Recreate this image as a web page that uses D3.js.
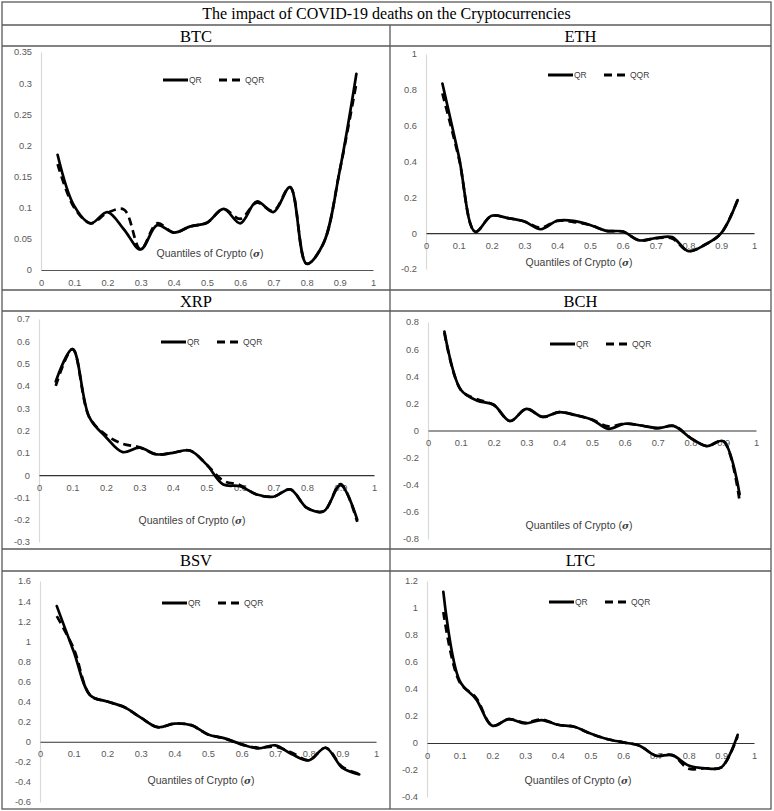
<!DOCTYPE html>
<html>
<head>
<meta charset="utf-8">
<script src="https://cdn.jsdelivr.net/npm/d3@7"></script>
<style>
  html, body { margin: 0; padding: 0; background: #fff; }
  svg { display: block; }
</style>
</head>
<body>
<svg id="chart" width="774" height="811"></svg>
<script>
// ---------------- DATA ----------------
const chartTitle = "The impact of COVID-19 deaths on the Cryptocurrencies";
const quantiles = [0.05,0.10,0.15,0.20,0.25,0.30,0.35,0.40,0.45,0.50,0.55,0.60,0.65,0.70,0.75,0.80,0.85,0.90,0.95];
const xTicks = [0,0.1,0.2,0.3,0.4,0.5,0.6,0.7,0.8,0.9,1];
const seriesNames = ["QR","QQR"];
const xAxisTitle = "Quantiles of Crypto (";
const sigma = "σ";

const btcQR  = [0.185,0.103,0.075,0.093,0.065,0.033,0.072,0.060,0.070,0.076,0.098,0.075,0.110,0.093,0.133,0.010,0.042,0.160,0.315];
const btcQQR = [0.170,0.100,0.075,0.092,0.097,0.033,0.075,0.060,0.070,0.076,0.098,0.082,0.108,0.095,0.133,0.010,0.042,0.160,0.300];
const btcTicks = [0,0.05,0.1,0.15,0.2,0.25,0.3,0.35];

const ethQR  = [0.835,0.430,0.008,0.097,0.084,0.065,0.022,0.069,0.069,0.046,0.013,0.009,-0.040,-0.028,-0.022,-0.100,-0.065,0.000,0.185];
const ethQQR = [0.780,0.420,0.008,0.097,0.084,0.065,0.030,0.069,0.062,0.046,0.013,0.009,-0.040,-0.028,-0.030,-0.100,-0.065,0.000,0.185];
const ethTicks = [-0.2,0,0.2,0.4,0.6,0.8,1];

const xrpQR  = [0.420,0.565,0.260,0.170,0.103,0.123,0.093,0.100,0.110,0.048,-0.042,-0.050,-0.087,-0.097,-0.064,-0.147,-0.162,-0.045,-0.200];
const xrpQQR = [0.400,0.565,0.260,0.180,0.140,0.125,0.093,0.100,0.110,0.048,-0.025,-0.045,-0.087,-0.097,-0.064,-0.147,-0.162,-0.040,-0.210];
const xrpTicks = [-0.3,-0.2,-0.1,0,0.1,0.2,0.3,0.4,0.5,0.6,0.7];

const bchQR  = [0.730,0.300,0.220,0.190,0.070,0.160,0.100,0.135,0.113,0.080,0.012,0.050,0.037,0.017,0.032,-0.054,-0.115,-0.078,-0.470];
const bchQQR = [0.720,0.300,0.230,0.190,0.070,0.160,0.100,0.135,0.113,0.080,0.030,0.050,0.037,0.017,0.035,-0.054,-0.115,-0.078,-0.520];
const bchTicks = [-0.8,-0.6,-0.4,-0.2,0,0.2,0.4,0.6,0.8];

const bsvQR  = [1.350,0.900,0.460,0.400,0.345,0.240,0.145,0.180,0.165,0.073,0.033,-0.026,-0.066,-0.036,-0.125,-0.185,-0.060,-0.260,-0.325];
const bsvQQR = [1.250,0.930,0.460,0.400,0.345,0.240,0.145,0.180,0.165,0.073,0.033,-0.026,-0.060,-0.050,-0.110,-0.185,-0.060,-0.250,-0.320];
const bsvTicks = [-0.6,-0.4,-0.2,0,0.2,0.4,0.6,0.8,1,1.2,1.4,1.6];

const ltcQR  = [1.120,0.460,0.325,0.128,0.177,0.145,0.170,0.135,0.120,0.070,0.030,0.005,-0.020,-0.094,-0.090,-0.167,-0.187,-0.180,0.060];
const ltcQQR = [0.970,0.450,0.335,0.128,0.177,0.150,0.175,0.135,0.120,0.070,0.030,0.005,-0.020,-0.094,-0.090,-0.190,-0.187,-0.180,0.050];
const ltcTicks = [-0.4,-0.2,0,0.2,0.4,0.6,0.8,1,1.2];

const panels = [
  {name:"BTC", qr:btcQR, qqr:btcQQR, ticks:btcTicks},
  {name:"ETH", qr:ethQR, qqr:ethQQR, ticks:ethTicks},
  {name:"XRP", qr:xrpQR, qqr:xrpQQR, ticks:xrpTicks},
  {name:"BCH", qr:bchQR, qqr:bchQQR, ticks:bchTicks},
  {name:"BSV", qr:bsvQR, qqr:bsvQQR, ticks:bsvTicks},
  {name:"LTC", qr:ltcQR, qqr:ltcQQR, ticks:ltcTicks}
];

// ---------------- LAYOUT ----------------
const tableX = [2, 390, 771];
const rowY = [2, 25, 46, 290, 311, 549, 571, 809];
const layout = [
  {x0:41,  x1:373, yT:52,  yB:270, legY:80,  tX:210, tY:257},
  {x0:426, x1:754, yT:54,  yB:269, legY:75,  tX:579, tY:266},
  {x0:39,  x1:374, yT:319, yB:542, legY:342, tX:192, tY:524},
  {x0:428, x1:756, yT:322, yB:539, legY:344, tX:579, tY:529},
  {x0:40,  x1:376, yT:581, yB:802, legY:603, tX:201, tY:784},
  {x0:427, x1:754, yT:581, yB:797, legY:602, tX:578, tY:784}
];

const svg = d3.select("#chart");
const borderColor = "#5a5a5a";

const tb = svg.append("g");
tb.append("rect").attr("x", tableX[0]).attr("y", rowY[0])
  .attr("width", tableX[2]-tableX[0]).attr("height", rowY[7]-rowY[0])
  .attr("fill","none").attr("stroke",borderColor).attr("stroke-width",1.3);
rowY.slice(1,7).forEach(y => {
  tb.append("line").attr("x1",tableX[0]).attr("x2",tableX[2]).attr("y1",y).attr("y2",y)
    .attr("stroke",borderColor).attr("stroke-width",1.3);
});
tb.append("line").attr("x1",tableX[1]).attr("x2",tableX[1]).attr("y1",rowY[1]).attr("y2",rowY[7])
  .attr("stroke",borderColor).attr("stroke-width",1.3);

svg.append("text").attr("x",(tableX[0]+tableX[2])/2).attr("y",19)
  .attr("text-anchor","middle").attr("font-family","'Liberation Serif', 'Times New Roman', serif")
  .attr("font-size",16).attr("fill","#000").text(chartTitle);

const headerRows = [[rowY[1],rowY[2]],[rowY[3],rowY[4]],[rowY[5],rowY[6]]];
panels.forEach((p,i) => {
  const col = i % 2, row = Math.floor(i/2);
  const cx = (tableX[col] + tableX[col+1]) / 2;
  const [ya, yb] = headerRows[row];
  svg.append("text").attr("x",cx).attr("y",(ya+yb)/2 + 6)
    .attr("text-anchor","middle").attr("font-family","'Liberation Serif', 'Times New Roman', serif")
    .attr("font-size",16.5).attr("fill","#000").text(p.name);
});

const tickFont = "'Liberation Sans', Arial, sans-serif";
const fmt = v => (+v.toFixed(2)).toString();

panels.forEach((p,i) => {
  const L = layout[i];
  const x = d3.scaleLinear().domain([0,1]).range([L.x0, L.x1]);
  const y = d3.scaleLinear().domain([d3.min(p.ticks), d3.max(p.ticks)]).range([L.yB, L.yT]);
  const g = svg.append("g");

  const yAxis = d3.axisLeft(y).tickValues(p.ticks).tickSize(0).tickPadding(9).tickFormat(fmt);
  const ya = g.append("g").attr("transform",`translate(${L.x0},0)`).call(yAxis);
  ya.select(".domain").attr("stroke","#d9d9d9").attr("stroke-width",1.2);
  ya.selectAll("text").attr("font-family",tickFont).attr("font-size",9.3).attr("fill","#595959");

  const xAxis = d3.axisBottom(x).tickValues(xTicks).tickSize(0).tickPadding(9).tickFormat(fmt);
  const xa = g.append("g").attr("transform",`translate(0,${y(0)})`).call(xAxis);
  xa.select(".domain").attr("stroke", i === 0 ? "#555" : "#333").attr("stroke-width",1.1);
  xa.selectAll("text").attr("font-family",tickFont).attr("font-size",9.3).attr("fill","#595959");

  const t = g.append("text").attr("x",L.tX).attr("y",L.tY).attr("text-anchor","middle")
    .attr("font-family",tickFont).attr("font-size",10.5).attr("fill","#404040");
  t.append("tspan").text(xAxisTitle);
  t.append("tspan").attr("font-weight","bold").attr("font-style","italic").attr("font-family","'DejaVu Serif', serif").attr("font-size",9.5).text(sigma);
  t.append("tspan").text(")");

  const line = d3.line().x((d,j) => x(quantiles[j])).y(d => y(d)).curve(d3.curveCatmullRom.alpha(0.5));
  g.append("path").datum(p.qr).attr("d",line).attr("fill","none")
    .attr("stroke","#000").attr("stroke-width",2.7).attr("stroke-linejoin","round").attr("stroke-linecap","round");
  g.append("path").datum(p.qqr).attr("d",line).attr("fill","none")
    .attr("stroke","#000").attr("stroke-width",2.7).attr("stroke-dasharray","8,5").attr("stroke-linejoin","round");

  const lx = L.x0 + 122, ly = L.legY;
  g.append("line").attr("x1",lx).attr("x2",lx+25).attr("y1",ly).attr("y2",ly)
    .attr("stroke","#000").attr("stroke-width",3);
  g.append("text").attr("x",lx+26).attr("y",ly+3).attr("font-family",tickFont).attr("font-size",8.5)
    .attr("fill","#404040").text(seriesNames[0]);
  g.append("line").attr("x1",lx+56).attr("x2",lx+81).attr("y1",ly).attr("y2",ly)
    .attr("stroke","#000").attr("stroke-width",3).attr("stroke-dasharray","8,5");
  g.append("text").attr("x",lx+82).attr("y",ly+3).attr("font-family",tickFont).attr("font-size",8.5)
    .attr("fill","#404040").text(seriesNames[1]);
});
</script>
</body>
</html>
